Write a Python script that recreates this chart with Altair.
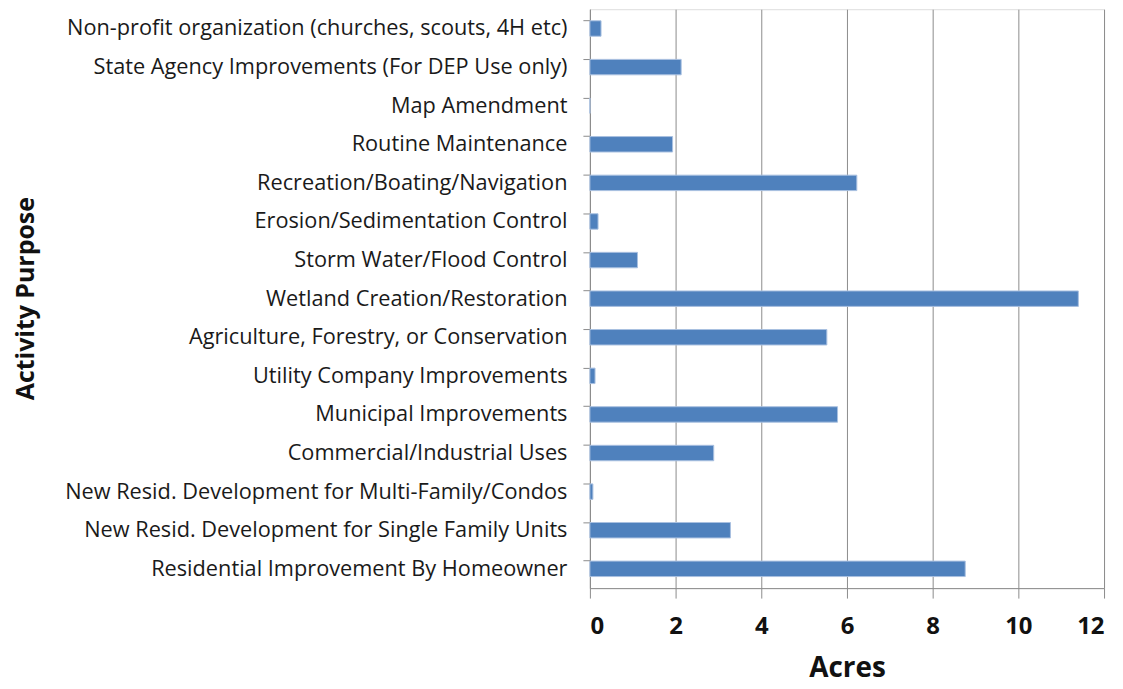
import altair as alt
import pandas as pd

categories = [
    "Non-profit organization (churches, scouts, 4H etc)",
    "State Agency Improvements (For DEP Use only)",
    "Map Amendment",
    "Routine Maintenance",
    "Recreation/Boating/Navigation",
    "Erosion/Sedimentation Control",
    "Storm Water/Flood Control",
    "Wetland Creation/Restoration",
    "Agriculture, Forestry, or Conservation",
    "Utility Company Improvements",
    "Municipal Improvements",
    "Commercial/Industrial Uses",
    "New Resid. Development for Multi-Family/Condos",
    "New Resid. Development for Single Family Units",
    "Residential Improvement By Homeowner",
]
acres = [0.26, 2.13, 0.0, 1.93, 6.23, 0.19, 1.11, 11.40, 5.53, 0.12, 5.78, 2.89, 0.07, 3.28, 8.76]
x_ticks = [0, 2, 4, 6, 8, 10, 12]

df = pd.DataFrame({"purpose": categories, "acres": acres})

FONT = "Open Sans"
GRID = "#8c8c8c"

chart = alt.Chart(df).mark_bar(
    color="#4F81BD", stroke="#a9c0e0", strokeWidth=1
).encode(
    x=alt.X(
        "acres:Q",
        scale=alt.Scale(domain=[0, 12], nice=False),
        axis=alt.Axis(
            title="Acres",
            values=x_ticks,
            grid=True,
            gridColor=GRID,
            gridWidth=1,
            domainColor=GRID,
            tickColor=GRID,
            tickSize=10,
            labelFont=FONT,
            labelFontSize=24,
            labelFontWeight="bold",
            labelColor="#111111",
            labelPadding=17,
            titleFont=FONT,
            titleFontSize=28,
            titleFontWeight="bold",
            titleColor="#111111",
            titlePadding=16,
        ),
    ),
    y=alt.Y(
        "purpose:N",
        sort=categories,
        scale=alt.Scale(paddingInner=0.6, paddingOuter=0.3),
        axis=alt.Axis(
            title="Activity Purpose",
            bandPosition=0,
            grid=False,
            domainColor=GRID,
            tickColor=GRID,
            tickSize=7,
            labelFont=FONT,
            labelFontSize=21.8,
            labelColor="#1a1a1a",
            labelPadding=16,
            labelLimit=1000,
            titleFont=FONT,
            titleFontSize=25,
            titleFontWeight="bold",
            titleColor="#111111",
            titleX=-553,
            titleY=290,
        ),
    ),
).properties(
    width=516,
    height=581,
    padding={"left": 6, "top": 0, "right": 10, "bottom": 0},
).configure_view(
    stroke=None
).configure(
    background="#ffffff"
)

chart.save("out.html", embed_options={"renderer": "svg", "actions": False})
